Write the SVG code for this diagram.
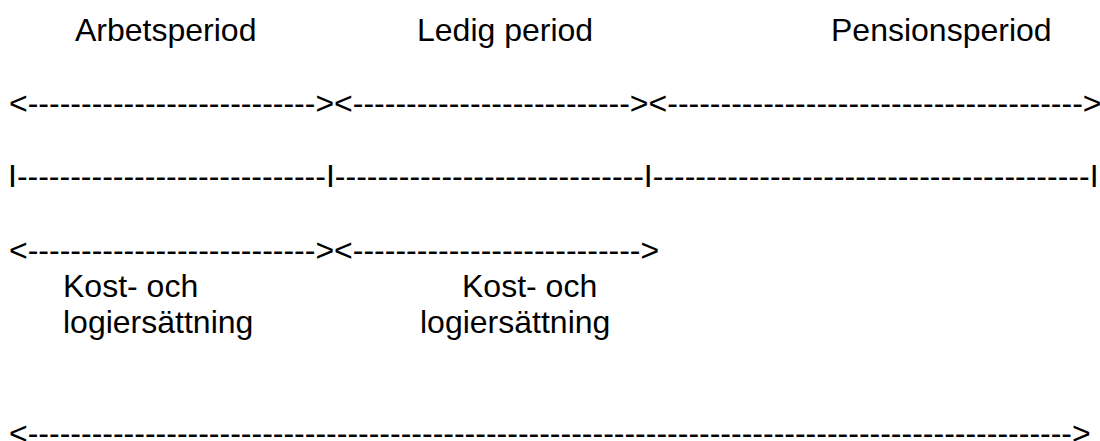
<svg xmlns="http://www.w3.org/2000/svg" width="1100" height="441" viewBox="0 0 1100 441">
<style>
text{font-family:"Liberation Sans",Arial,sans-serif;font-size:32px;fill:#000}
</style>
<rect width="1100" height="441" fill="#fff"/>
<g id="labels">
<text x="75" y="41">Arbetsperiod</text>
<text x="417" y="41">Ledig period</text>
<text x="831" y="41">Pensionsperiod</text>
</g>
<g id="connectors">
<text x="9" y="114">&lt;---------------------------&gt;&lt;--------------------------&gt;&lt;---------------------------------------&gt;</text>
<text x="8" y="187">I-----------------------------I-----------------------------I-----------------------------------------I</text>
<text x="9" y="261">&lt;---------------------------&gt;&lt;---------------------------&gt;</text>
<text x="9" y="444">&lt;--------------------------------------------------------------------------------------------------&gt;</text>
</g>
<g id="kost1">
<text x="63" y="297">Kost- och</text>
<text x="63" y="333">logiersättning</text>
</g>
<g id="kost2">
<text x="462" y="297">Kost- och</text>
<text x="420" y="333">logiersättning</text>
</g>
</svg>
